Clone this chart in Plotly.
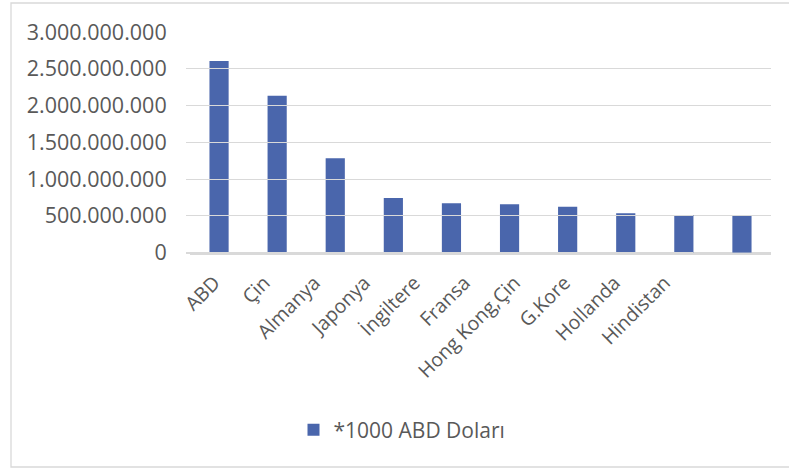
import plotly.graph_objects as go

# Top importing countries (values in thousand USD)
countries = ["ABD", "Çin", "Almanya", "Japonya", "İngiltere", "Fransa",
             "Hong Kong,Çin", "G.Kore", "Hollanda", "Hindistan"]
imports = [2605000000, 2134000000, 1283000000, 743000000, 671000000,
           657000000, 625000000, 535000000, 512000000, 499000000]
series_name = "*1000 ABD Doları"
y_ticks = [0, 500000000, 1000000000, 1500000000, 2000000000, 2500000000, 3000000000]

W, H = 789, 469
FONT = "Open Sans"
GREY = "#595959"
GRID = "#d9d9d9"
BAR = "#4a66ac"

fig = go.Figure()
fig.add_trace(go.Bar(
    x=countries, y=imports, name=series_name,
    marker=dict(color=BAR, line=dict(width=0)),
    width=0.33,
))
# invisible companion trace that carries the category labels on a narrower axis
fig.add_trace(go.Scatter(
    x=countries, y=imports, xaxis="x2", yaxis="y",
    mode="markers", marker=dict(opacity=0, size=1),
    showlegend=False, hoverinfo="skip",
))

# plot area placed in pixel terms via axis domains (margins are zero)
x0, x1 = 190, 771
lab_x0, lab_x1 = 186, 693
y_top, y_bot = 32, 252.7

fig.update_layout(
    width=W, height=H,
    margin=dict(l=0, r=0, t=0, b=0),
    paper_bgcolor="white", plot_bgcolor="rgba(0,0,0,0)",
    font=dict(family=FONT, color=GREY, size=20),
    separators=",.",
    showlegend=True,
    legend=dict(
        orientation="h", x=402 / W, xanchor="center",
        y=1 - 430 / H, yanchor="middle",
        font=dict(size=21, color=GREY), bgcolor="rgba(0,0,0,0)",
    ),
    xaxis=dict(
        domain=[x0 / W, x1 / W],
        showticklabels=False, showgrid=False, showline=True,
        linecolor=GRID, linewidth=1.5, ticks="",
        automargin=False, fixedrange=True,
    ),
    xaxis2=dict(
        domain=[lab_x0 / W, lab_x1 / W], anchor="y",
        type="category",
        tickangle=-45, showgrid=False, showline=False, zeroline=False,
        ticks="outside", ticklen=10, tickcolor="rgba(0,0,0,0)",
        tickfont=dict(size=19.5, color=GREY),
        automargin=False, fixedrange=True,
    ),
    yaxis=dict(
        domain=[1 - y_bot / H, 1 - y_top / H],
        range=[0, 3000000000],
        tickvals=y_ticks, tickformat=",.0f",
        showgrid=True, gridcolor=GRID, gridwidth=1.3,
        zeroline=True, zerolinecolor=GRID, zerolinewidth=1.5,
        showline=False, ticks="outside", ticklen=18, tickcolor="rgba(0,0,0,0)",
        tickfont=dict(size=21.5, color=GREY),
        automargin=False, fixedrange=True,
    ),
    shapes=[dict(
        type="rect", xref="paper", yref="paper",
        x0=11 / W, x1=1.02, y0=1 - 467 / H, y1=1 - 3 / H,
        line=dict(color=GRID, width=1.3), fillcolor="rgba(0,0,0,0)",
        layer="below",
    )],
)

fig.write_html("out.html")
